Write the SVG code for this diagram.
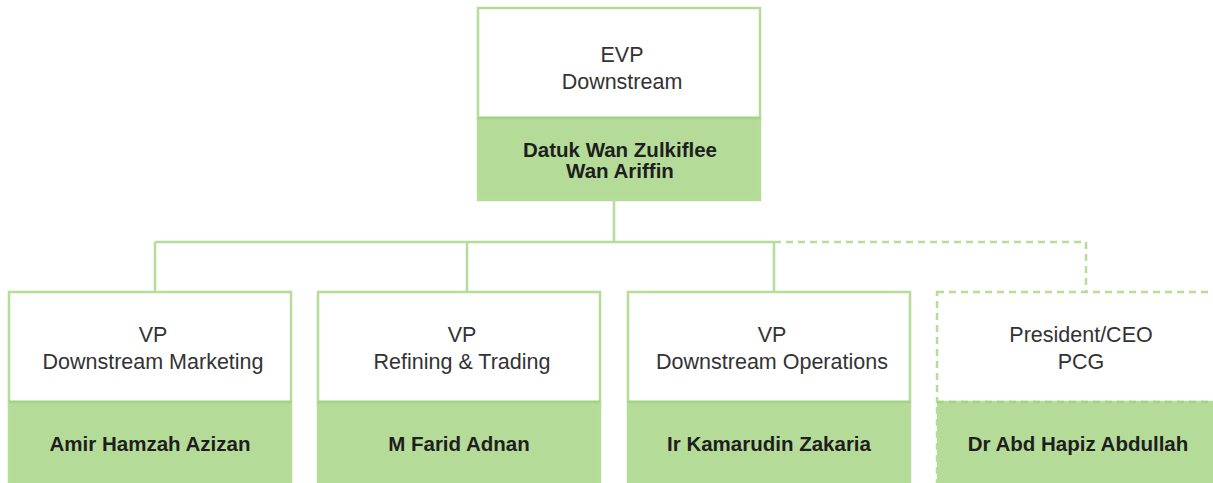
<svg xmlns="http://www.w3.org/2000/svg" width="1213" height="483" viewBox="0 0 1213 483">
<style>
.box{fill:#ffffff;stroke:#b5dc98;stroke-width:2.5}
.name{fill:#b5db98;stroke:#b5dc98;stroke-width:2.5}
.div{stroke:#a3d385;stroke-width:2.5;fill:none}
.dash{stroke-dasharray:7 5}
.line{stroke:#b5dc98;stroke-width:2.5;fill:none}
.t{font-family:"Liberation Sans",Arial,sans-serif;font-size:21.5px;fill:#333333;text-anchor:middle}
.n{font-family:"Liberation Sans",Arial,sans-serif;font-size:20.5px;font-weight:bold;fill:#1e1e1e;text-anchor:middle}
</style>
<g id="connectors">
<path class="line" d="M614 200V242M155 242H774M155 242V292M467 242V292M774 242V292"/>
<path class="line dash" d="M774 242H1086V292"/>
</g>
<g id="evp">
<rect class="box" x="478" y="8" width="282" height="110"/>
<rect class="name" x="478" y="118" width="282" height="82"/>
<line class="div" x1="478" y1="118" x2="760" y2="118"/>
<text class="t" x="622" y="62">EVP</text>
<text class="t" x="622" y="89">Downstream</text>
<text class="n" x="620" y="157">Datuk Wan Zulkiflee</text>
<text class="n" x="620" y="178">Wan Ariffin</text>
</g>
<g id="vp-marketing">
<rect class="box" x="9" y="292" width="282" height="110"/>
<rect class="name" x="9" y="402" width="282" height="90"/>
<line class="div" x1="9" y1="402" x2="291" y2="402"/>
<text class="t" x="153" y="342">VP</text>
<text class="t" x="153" y="369">Downstream Marketing</text>
<text class="n" x="150" y="451">Amir Hamzah Azizan</text>
</g>
<g id="vp-refining">
<rect class="box" x="318" y="292" width="282" height="110"/>
<rect class="name" x="318" y="402" width="282" height="90"/>
<line class="div" x1="318" y1="402" x2="600" y2="402"/>
<text class="t" x="462" y="342">VP</text>
<text class="t" x="462" y="369">Refining &amp; Trading</text>
<text class="n" x="459" y="451">M Farid Adnan</text>
</g>
<g id="vp-operations">
<rect class="box" x="628" y="292" width="282" height="110"/>
<rect class="name" x="628" y="402" width="282" height="90"/>
<line class="div" x1="628" y1="402" x2="910" y2="402"/>
<text class="t" x="772" y="342">VP</text>
<text class="t" x="772" y="369">Downstream Operations</text>
<text class="n" x="769" y="451">Ir Kamarudin Zakaria</text>
</g>
<g id="president-pcg">
<rect class="box dash" x="937" y="292" width="282" height="110"/>
<rect class="name dash" x="937" y="402" width="282" height="90"/>
<line class="div dash" x1="937" y1="402" x2="1219" y2="402"/>
<text class="t" x="1081" y="342">President/CEO</text>
<text class="t" x="1081" y="369">PCG</text>
<text class="n" x="1078" y="451">Dr Abd Hapiz Abdullah</text>
</g>
</svg>
